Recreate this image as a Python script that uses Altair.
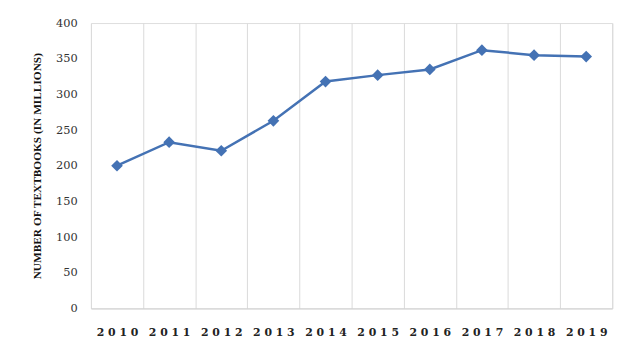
import altair as alt
import pandas as pd

years = ["2010", "2011", "2012", "2013", "2014", "2015", "2016", "2017", "2018", "2019"]
values = [200, 233, 221, 263, 318, 327, 335, 362, 355, 353]

df = pd.DataFrame({"year": years, "value": values})

W, H = 528, 289
color = "#4472b4"

x = alt.X(
    "year:O",
    sort=years,
    scale=alt.Scale(paddingInner=0, paddingOuter=0),
    axis=alt.Axis(
        title=None,
        labelAngle=0,
        labelExpr="join(split(datum.label, ''), ' ')",
        labelFont="DejaVu Serif",
        labelFontWeight="bold",
        labelFontSize=11,
        labelColor="#222222",
        labelPadding=18,
        ticks=False,
        tickBand="extent",
        grid=True,
        gridColor="#d9d9d9",
        gridWidth=1,
        domainColor="#d0d0d0",
        domainWidth=1,
    ),
)
y = alt.Y(
    "value:Q",
    scale=alt.Scale(domain=[0, 400]),
    axis=alt.Axis(
        title="NUMBER OF TEXTBOOKS (IN MILLIONS)",
        titleFont="Liberation Serif",
        titleFontWeight="bold",
        titleFontSize=11.5,
        titleColor="#111111",
        titlePadding=13,
        values=list(range(0, 401, 50)),
        labelFont="DejaVu Serif",
        labelFontSize=11.5,
        labelColor="#333333",
        labelPadding=14,
        ticks=False,
        domain=False,
        grid=False,
    ),
)

line = alt.Chart(df).mark_line(color=color, strokeWidth=2.5).encode(x=x, y=y)
pts = alt.Chart(df).mark_point(
    shape="diamond", filled=True, color=color, size=140, opacity=1
).encode(x=x, y=y)

chart = (
    (line + pts)
    .properties(width=W, height=H, autosize=alt.AutoSizeParams(type="none"),
                padding={"left": 84, "top": 13, "right": 20, "bottom": 50})
    .configure_view(stroke=None)
    .configure(background="white")
)

chart.save("out.html", embed_options={"renderer": "svg", "actions": False})
